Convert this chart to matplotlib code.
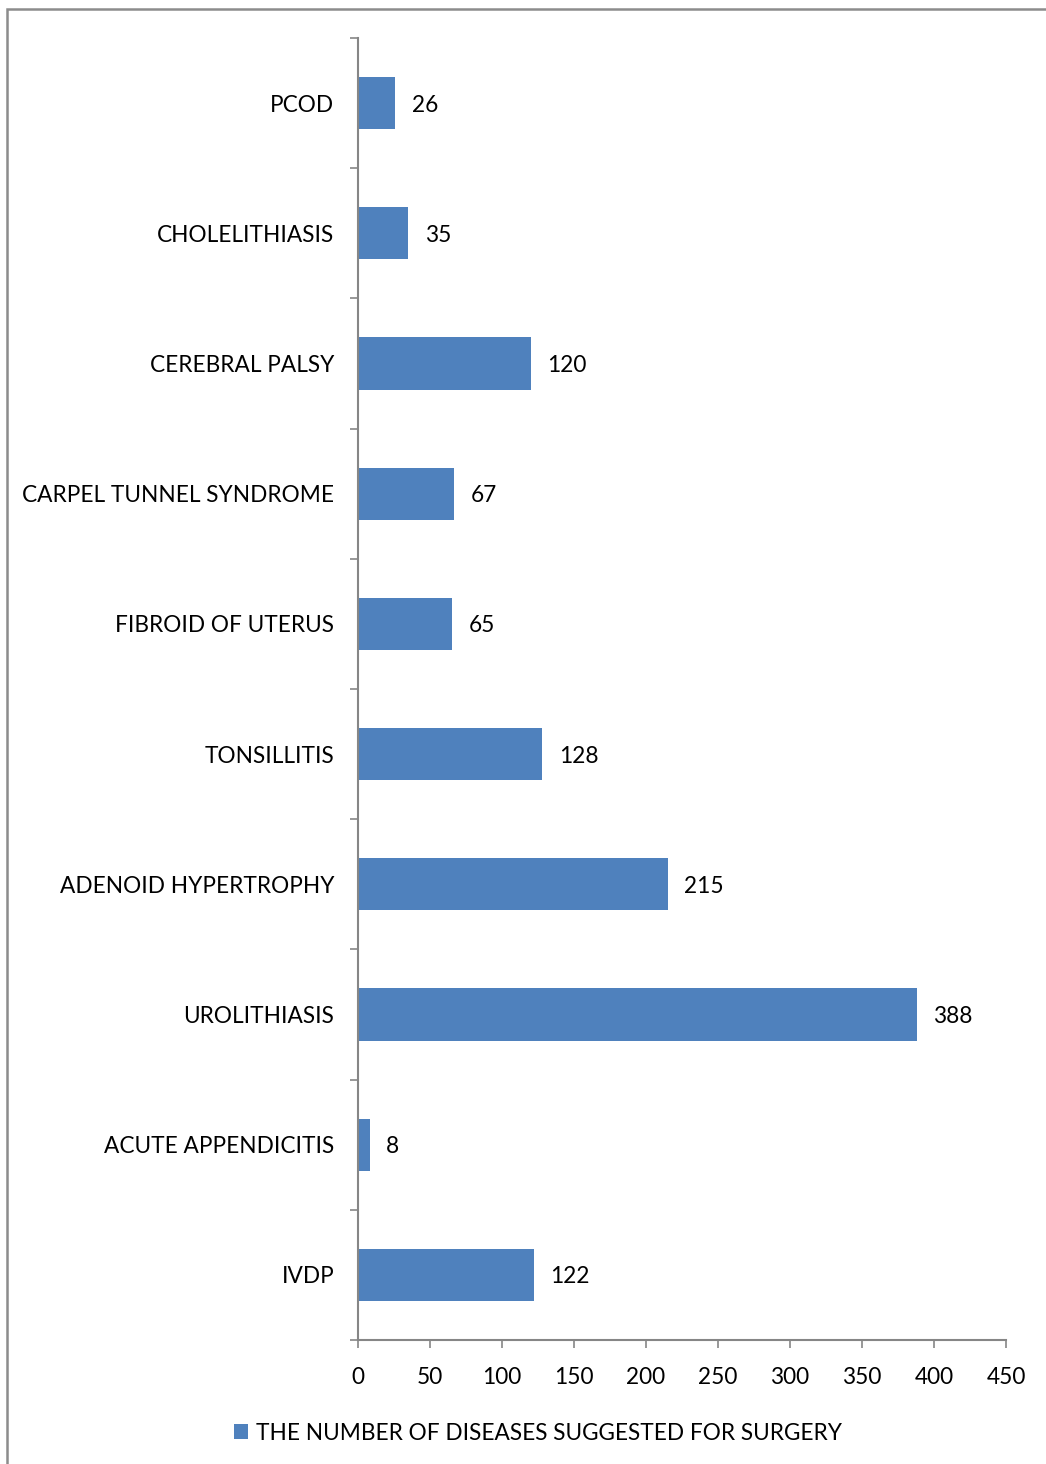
import matplotlib.pyplot as plt
from matplotlib.patches import Rectangle
from matplotlib.ticker import FixedLocator, NullFormatter
import numpy as np

# data (bottom to top)
diseases = ['IVDP', 'ACUTE APPENDICITIS', 'UROLITHIASIS', 'ADENOID HYPERTROPHY',
            'TONSILLITIS', 'FIBROID OF UTERUS', 'CARPEL TUNNEL SYNDROME',
            'CEREBRAL PALSY', 'CHOLELITHIASIS', 'PCOD']
counts = [122, 8, 388, 215, 128, 65, 67, 120, 35, 26]
series_name = 'THE NUMBER OF DISEASES SUGGESTED FOR SURGERY'
x_ticks = [0, 50, 100, 150, 200, 250, 300, 350, 400, 450]

plt.rcParams['font.family'] = ['Lato', 'DejaVu Sans']
fs = 16.3
bar_color = '#4F81BD'
axis_color = '#868686'

W, H = 1046, 1464
fig = plt.figure(figsize=(W / 100, H / 100), dpi=100)
ax = fig.add_axes([358 / W, 1 - 1340 / H, (1006 - 358) / W, (1340 - 38) / H])

y = np.arange(len(diseases))
ax.barh(y, counts, height=0.4, color=bar_color, label=series_name, zorder=2)

for yi, v in zip(y, counts):
    ax.annotate(str(v), (v, yi), xytext=(12, -1.5), textcoords='offset points',
                va='center', ha='left', fontsize=fs, color='black')

ax.set_xlim(0, 450)
ax.set_ylim(-0.5, len(diseases) - 0.5)
ax.set_xticks(x_ticks)
ax.set_xticklabels([str(t) for t in x_ticks], fontsize=fs)
ax.set_yticks(y)
ax.set_yticklabels(diseases, fontsize=fs)
ax.yaxis.set_minor_locator(FixedLocator(np.arange(-0.5, len(diseases), 1.0)))
ax.yaxis.set_minor_formatter(NullFormatter())
ax.tick_params(axis='y', which='major', length=0, pad=17)
ax.tick_params(axis='y', which='minor', length=6, width=1.2, color=axis_color)
ax.tick_params(axis='x', length=6, width=1.2, color=axis_color, pad=13.5)

for s in ['top', 'right']:
    ax.spines[s].set_visible(False)
for s in ['left', 'bottom']:
    ax.spines[s].set_color(axis_color)
    ax.spines[s].set_linewidth(1.5)

leg = fig.legend(loc='center', bbox_to_anchor=(538 / W, 1 - 1433 / H), frameon=False,
                 fontsize=fs, handlelength=0.65, handleheight=0.65, handletextpad=0.35)

# outer chart border
fig.patches.append(Rectangle((7 / W, -0.05), 1.1, 1 - 9 / H + 0.05,
                             transform=fig.transFigure, fill=False,
                             edgecolor='#8C8C8C', linewidth=1.8))

fig.savefig('out.png', dpi=100)
